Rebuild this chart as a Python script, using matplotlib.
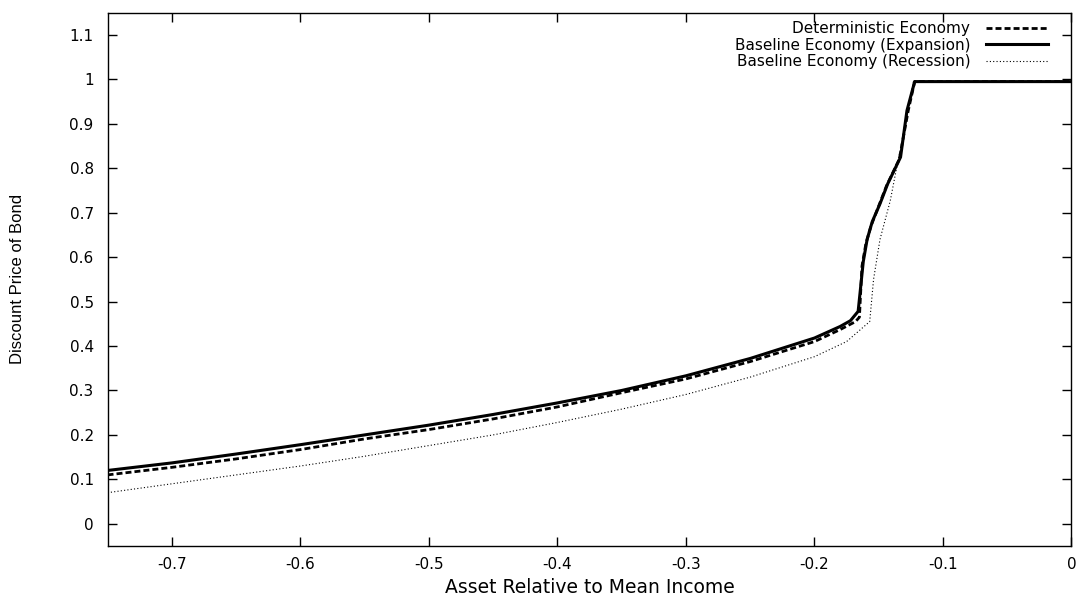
import matplotlib
matplotlib.use("Agg")
import matplotlib.pyplot as plt
from matplotlib import font_manager

# --- data ---
det_x = [-0.75, -0.7, -0.65, -0.6, -0.55, -0.5, -0.45, -0.4, -0.35, -0.3, -0.25, -0.2,
         -0.18, -0.168, -0.165, -0.163, -0.16, -0.156, -0.15, -0.144, -0.134, -0.127,
         -0.122, 0.0]
det_y = [0.11, 0.127, 0.146, 0.167, 0.191, 0.212, 0.236, 0.263, 0.295, 0.326, 0.365, 0.41,
         0.437, 0.455, 0.465, 0.58, 0.63, 0.67, 0.715, 0.76, 0.82, 0.93,
         0.995, 0.995]

exp_x = [-0.75, -0.7, -0.65, -0.6, -0.55, -0.5, -0.45, -0.4, -0.35, -0.3, -0.25, -0.2,
         -0.18, -0.172, -0.166, -0.162, -0.159, -0.155, -0.149, -0.143, -0.133, -0.128,
         -0.122, 0.0]
exp_y = [0.12, 0.137, 0.157, 0.178, 0.200, 0.222, 0.246, 0.272, 0.300, 0.333, 0.372, 0.418,
         0.444, 0.457, 0.478, 0.59, 0.64, 0.68, 0.72, 0.765, 0.825, 0.93,
         0.995, 0.995]

rec_x = [-0.75, -0.7, -0.65, -0.6, -0.55, -0.5, -0.45, -0.4, -0.35, -0.3, -0.25, -0.2,
         -0.175, -0.157, -0.154, -0.149, -0.141, -0.135, -0.13, -0.123, 0.0]
rec_y = [0.07, 0.09, 0.11, 0.13, 0.152, 0.176, 0.2, 0.228, 0.258, 0.291, 0.33, 0.376,
         0.41, 0.455, 0.55, 0.64, 0.727, 0.817, 0.884, 0.995, 0.995]

x_ticks = [-0.7, -0.6, -0.5, -0.4, -0.3, -0.2, -0.1, 0]
x_tick_labels = ["-0.7", "-0.6", "-0.5", "-0.4", "-0.3", "-0.2", "-0.1", "0"]
y_ticks = [0, 0.1, 0.2, 0.3, 0.4, 0.5, 0.6, 0.7, 0.8, 0.9, 1.0, 1.1]
y_tick_labels = ["0", "0.1", "0.2", "0.3", "0.4", "0.5", "0.6", "0.7", "0.8", "0.9", "1", "1.1"]

# --- fonts: wide face for ticks/legend, narrower one for the y label ---
installed = {f.name for f in font_manager.fontManager.ttflist}
narrow_font = "Liberation Sans" if "Liberation Sans" in installed else "DejaVu Sans"
plt.rcParams["font.family"] = ["DejaVu Sans"]

fig = plt.figure(figsize=(10.81, 5.97), dpi=100)
ax = fig.add_axes([0.0995, 0.0854, 0.9912 - 0.0995, 0.9787 - 0.0854])

ax.plot(det_x, det_y, color="black", linewidth=2.0, linestyle=(0, (2.15, 1.1)),
        label="Deterministic Economy")
ax.plot(exp_x, exp_y, color="black", linewidth=2.2, linestyle="-",
        label="Baseline Economy (Expansion)")
ax.plot(rec_x, rec_y, color="black", linewidth=0.8, linestyle=(0, (1, 2)),
        label="Baseline Economy (Recession)")

ax.set_xlim(-0.75, 0)
ax.set_ylim(-0.05, 1.15)
ax.set_xticks(x_ticks)
ax.set_xticklabels(x_tick_labels)
ax.set_yticks(y_ticks)
ax.set_yticklabels(y_tick_labels)
ax.tick_params(direction="in", length=6.5, width=1, top=True, right=True,
               labelsize=11)
ax.tick_params(axis="x", pad=8)
ax.tick_params(axis="y", pad=10)
for s in ax.spines.values():
    s.set_linewidth(1.0)

ax.set_xlabel("Asset Relative to Mean Income", fontsize=13.5, va="baseline")
ax.xaxis.set_label_coords(0.5, -0.089)
ax.set_ylabel("Discount Price of Bond", fontsize=12, family=narrow_font)
ax.yaxis.set_label_coords(-0.0856, 0.5)

ax.legend(loc="upper right", bbox_to_anchor=(1.0 - 15 / 964, 1.0), frameon=False,
          markerfirst=False, fontsize=11, handlelength=4.05,
          handletextpad=1.05, labelspacing=0.1, borderaxespad=0.0,
          borderpad=0.55)

fig.savefig("out.png", dpi=100)
